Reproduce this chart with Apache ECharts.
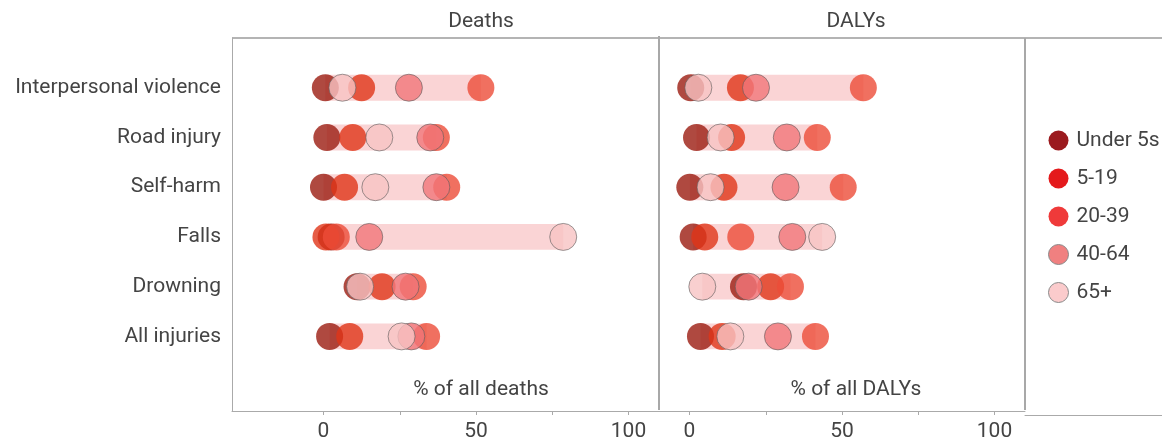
<!DOCTYPE html>
<html>
<head>
<meta charset="utf-8">
<script src="https://cdn.jsdelivr.net/npm/echarts@6/dist/echarts.min.js"></script>
<style>
  html, body { margin: 0; padding: 0; background: #ffffff; }
  #chart { width: 1162px; height: 442px; }
</style>
</head>
<body>
<div id="chart"></div>
<script>
// Injury causes (rows, top to bottom) and age groups (series)
const causes = ['Interpersonal violence', 'Road injury', 'Self-harm', 'Falls', 'Drowning', 'All injuries'];
const ageGroups = ['Under 5s', '5-19', '20-39', '40-64', '65+'];

// % of all deaths, one value per cause
const deathsUnder5 = [0.6, 1.1, 0, 2.5, 11, 2];
const deaths5to19  = [12.5, 9.6, 6.9, 0.8, 19.2, 8.6];
const deaths20to39 = [51.6, 37, 40.4, 4.2, 29.4, 33.8];
const deaths40to64 = [28, 35, 37, 15, 26.9, 28.8];
const deaths65plus = [6.2, 18.3, 17, 78.6, 12, 25.6];

// % of all DALYs, one value per cause
const dalysUnder5 = [0.4, 2.3, 0.1, 1.2, 17.7, 3.6];
const dalys5to19  = [16.7, 13.8, 11.3, 5, 26.6, 10.7];
const dalys20to39 = [57, 41.9, 50.4, 16.8, 33.1, 41.3];
const dalys40to64 = [21.8, 31.9, 31.5, 33.7, 19.4, 29];
const dalys65plus = [2.9, 10.2, 6.9, 43.5, 4.2, 13.4];

// x axis ticks and labelled values
const xTickValues = [0, 25, 50, 75, 100];
const xLabelValues = [0, 50, 100];

const deathsByGroup = [deathsUnder5, deaths5to19, deaths20to39, deaths40to64, deaths65plus];
const dalysByGroup  = [dalysUnder5, dalys5to19, dalys20to39, dalys40to64, dalys65plus];

// fill colours of the dots (drawn semi-transparent) and of the legend swatches
const dotColors    = ['#9b1c10', '#e03418', '#ec4c38', '#f17579', '#f7c3c3'];
const legendColors = ['#9b1a1e', '#e41a1c', '#ef3a3a', '#f08080', '#fbcbcc'];
const outlined     = [false, false, false, true, true];

const FONT = 'Roboto, "Noto Sans", sans-serif';
const FS = 21;
const TEXT = '#444444';
const FRAME = '#aaaaaa';

const chart = echarts.init(document.getElementById('chart'), null, { renderer: 'canvas' });

function rangeRows(groups) {
  return causes.map((c, i) => {
    const vals = groups.map(g => g[i]);
    return [Math.min(...vals), Math.max(...vals), i];
  });
}

function bandSeries(axisIndex, groups) {
  return {
    type: 'custom',
    xAxisIndex: axisIndex,
    yAxisIndex: axisIndex,
    silent: true,
    z: 1,
    encode: { x: [0, 1], y: 2 },
    data: rangeRows(groups),
    renderItem(params, api) {
      const a = api.coord([api.value(0), api.value(2)]);
      const b = api.coord([api.value(1), api.value(2)]);
      const h = api.size([0, 1])[1] * 0.52;
      return {
        type: 'rect',
        shape: { x: a[0], y: a[1] - h / 2, width: b[0] - a[0], height: h },
        style: { fill: '#fad4d5' }
      };
    }
  };
}

function dotSeries(axisIndex, groups) {
  return ageGroups.map((name, k) => ({
    type: 'scatter',
    name,
    xAxisIndex: axisIndex,
    yAxisIndex: axisIndex,
    z: 2 + k,
    symbol: 'circle',
    symbolSize: 27,
    itemStyle: {
      color: dotColors[k],
      opacity: 0.8,
      borderColor: outlined[k] ? 'rgba(90,90,90,0.75)' : 'rgba(0,0,0,0)',
      borderWidth: outlined[k] ? 1 : 0
    },
    emphasis: { disabled: true },
    data: groups[k].map((v, i) => [v, i])
  }));
}

const panelX = {
  axisLine: { show: true, onZero: false, lineStyle: { color: FRAME, width: 1 } },
  axisTick: { show: true, customValues: xTickValues, length: 4, lineStyle: { color: FRAME } },
  axisLabel: { customValues: xLabelValues, fontSize: FS, color: TEXT, fontFamily: FONT, margin: 10 },
  splitLine: { show: false }
};

const rowY = {
  type: 'value', inverse: true, min: -1, max: 6.5, interval: 1,
  splitLine: { show: false }, axisTick: { show: false }
};

const option = {
  animation: false,
  backgroundColor: '#ffffff',
  textStyle: { fontFamily: FONT },
  grid: [
    { left: 232, top: 38, width: 427, height: 377 },
    { left: 659, top: 38, width: 366, height: 377 },
    { left: 1025, top: 38, width: 137, height: 377 }
  ],
  xAxis: [
    Object.assign({ type: 'value', gridIndex: 0, min: -30, max: 110 }, panelX),
    Object.assign({ type: 'value', gridIndex: 1, min: -10, max: 110 }, panelX),
    { type: 'value', gridIndex: 2, min: 0, max: 1,
      axisLine: { show: true, onZero: false, lineStyle: { color: FRAME, width: 1 } },
      axisTick: { show: false }, axisLabel: { show: false }, splitLine: { show: false } }
  ],
  yAxis: [
    Object.assign({}, rowY, {
      gridIndex: 0,
      axisLine: { show: true, onZero: false, lineStyle: { color: FRAME, width: 1 } },
      axisLabel: {
        fontSize: FS, color: TEXT, fontFamily: FONT, margin: 11, padding: [4, 0, 0, 0],
        formatter: v => (Number.isInteger(v) && causes[v]) ? causes[v] : ''
      }
    }),
    Object.assign({}, rowY, { gridIndex: 1, axisLine: { show: false }, axisLabel: { show: false } }),
    Object.assign({}, rowY, { gridIndex: 2, axisLine: { show: false }, axisLabel: { show: false } })
  ],
  legend: {
    orient: 'vertical',
    left: 1043,
    top: 125,
    itemWidth: 20,
    itemHeight: 20,
    itemGap: 17,
    icon: 'circle',
    selectedMode: false,
    textStyle: { fontSize: FS, lineHeight: 20, color: TEXT, fontFamily: FONT, padding: [0, 0, 0, 3] },
    data: ageGroups.map((name, k) => ({
      name,
      itemStyle: {
        color: legendColors[k],
        opacity: 1,
        borderColor: outlined[k] ? '#8a8a8a' : legendColors[k],
        borderWidth: outlined[k] ? 1 : 0
      }
    }))
  },
  graphic: [
    { type: 'line', silent: true, shape: { x1: 232, y1: 38, x2: 1162, y2: 38 },
      style: { stroke: '#b4b4b4', lineWidth: 2 } },
    { type: 'line', silent: true, shape: { x1: 659, y1: 36, x2: 659, y2: 410 },
      style: { stroke: '#a8a8a8', lineWidth: 2 } },
    { type: 'line', silent: true, shape: { x1: 1025, y1: 38, x2: 1025, y2: 410 },
      style: { stroke: '#a8a8a8', lineWidth: 2 } },
    { type: 'text', silent: true, x: 481, y: 22,
      style: { text: 'Deaths', fill: TEXT, font: FS + 'px ' + FONT, textAlign: 'center', textVerticalAlign: 'middle' } },
    { type: 'text', silent: true, x: 856, y: 22,
      style: { text: 'DALYs', fill: TEXT, font: FS + 'px ' + FONT, textAlign: 'center', textVerticalAlign: 'middle' } },
    { type: 'text', silent: true, x: 481, y: 390,
      style: { text: '% of all deaths', fill: TEXT, font: FS + 'px ' + FONT, textAlign: 'center', textVerticalAlign: 'middle' } },
    { type: 'text', silent: true, x: 856, y: 390,
      style: { text: '% of all DALYs', fill: TEXT, font: FS + 'px ' + FONT, textAlign: 'center', textVerticalAlign: 'middle' } }
  ],
  series: [
    bandSeries(0, deathsByGroup),
    bandSeries(1, dalysByGroup),
    ...dotSeries(0, deathsByGroup),
    ...dotSeries(1, dalysByGroup)
  ]
};

chart.setOption(option);
</script>
</body>
</html>
